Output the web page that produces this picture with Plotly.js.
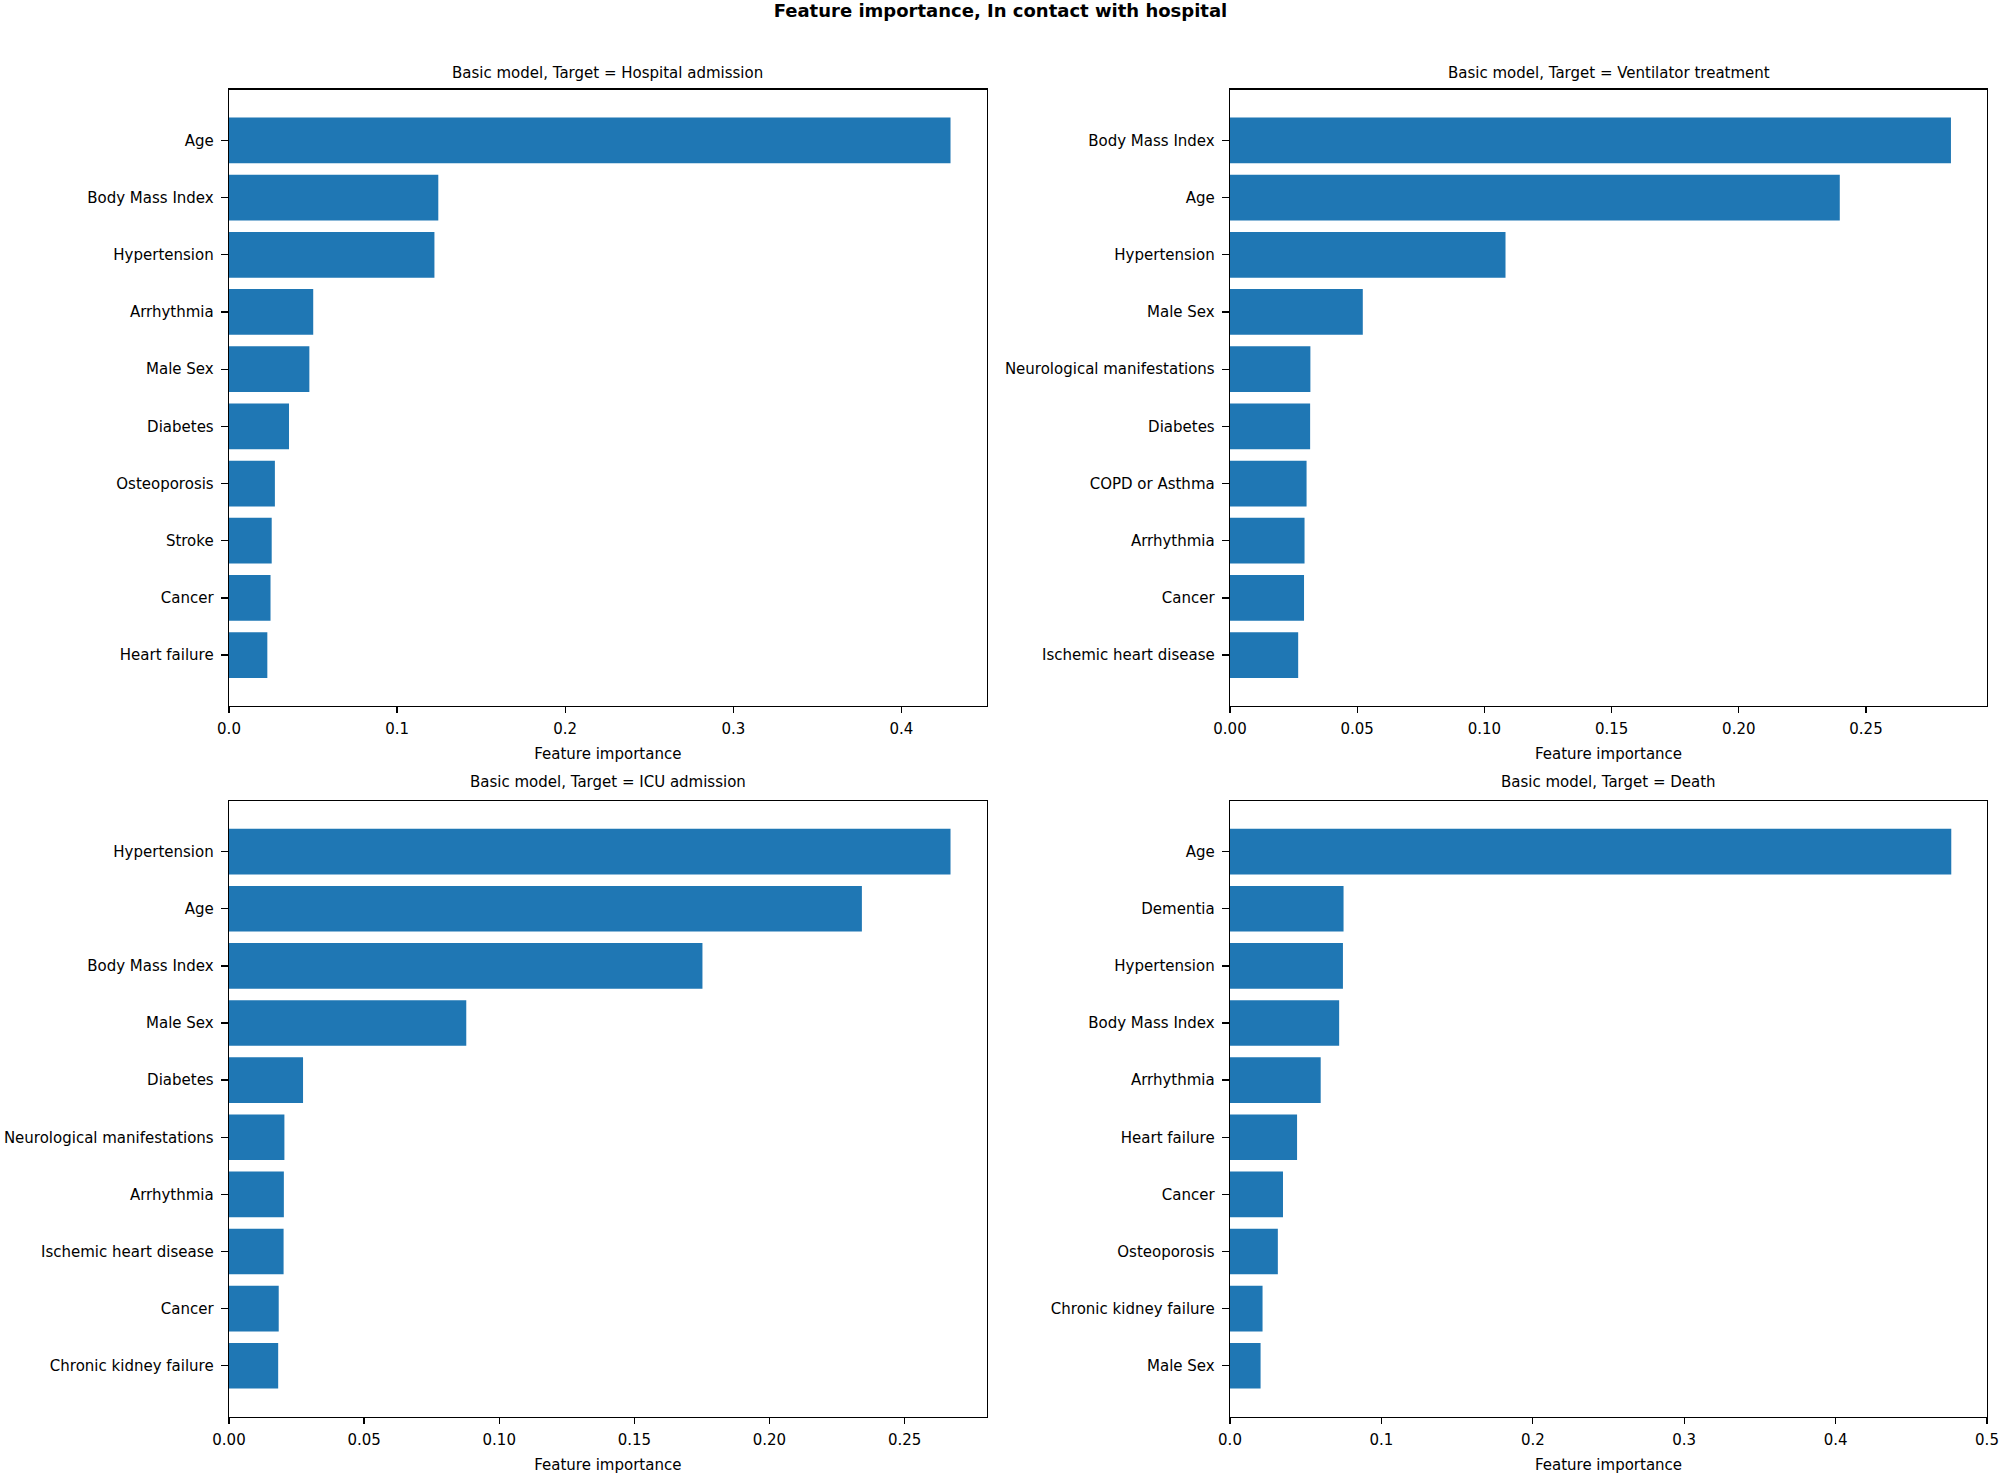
<!DOCTYPE html>
<html>
<head>
<meta charset="utf-8">
<script src="https://cdn.plot.ly/plotly-3.0.1.min.js"></script>
<style>html,body{margin:0;padding:0;background:#fff;}#chart{width:2001px;height:1474px;}</style>
</head>
<body>
<div id="chart"></div>
<script>
// ---- Data ----
const figTitle = "Feature importance, In contact with hospital";
const axisTitle = "Feature importance";

const hospTitle = "Basic model, Target = Hospital admission";
const hospFeatures = ["Age", "Body Mass Index", "Hypertension", "Arrhythmia", "Male Sex", "Diabetes", "Osteoporosis", "Stroke", "Cancer", "Heart failure"];
const hospValues = [0.4292, 0.1245, 0.1222, 0.0501, 0.0478, 0.0357, 0.0273, 0.0254, 0.0247, 0.0228];

const ventTitle = "Basic model, Target = Ventilator treatment";
const ventFeatures = ["Body Mass Index", "Age", "Hypertension", "Male Sex", "Neurological manifestations", "Diabetes", "COPD or Asthma", "Arrhythmia", "Cancer", "Ischemic heart disease"];
const ventValues = [0.2834, 0.2397, 0.1083, 0.0522, 0.0316, 0.0315, 0.0301, 0.0293, 0.0291, 0.0268];

const icuTitle = "Basic model, Target = ICU admission";
const icuFeatures = ["Hypertension", "Age", "Body Mass Index", "Male Sex", "Diabetes", "Neurological manifestations", "Arrhythmia", "Ischemic heart disease", "Cancer", "Chronic kidney failure"];
const icuValues = [0.2670, 0.2342, 0.1752, 0.0878, 0.0274, 0.0205, 0.0203, 0.0202, 0.0184, 0.0182];

const deathTitle = "Basic model, Target = Death";
const deathFeatures = ["Age", "Dementia", "Hypertension", "Body Mass Index", "Arrhythmia", "Heart failure", "Cancer", "Osteoporosis", "Chronic kidney failure", "Male Sex"];
const deathValues = [0.4764, 0.0750, 0.0746, 0.0721, 0.0599, 0.0443, 0.0350, 0.0316, 0.0215, 0.0202];

const xTickSteps = [0.1, 0.05, 0.05, 0.1];
const xTickFormats = [".1f", ".2f", ".2f", ".1f"];
const xMaxOverride = [null, null, null, 0.5];

// ---- Layout helpers ----
const W = 2001, H = 1474;
const FONT = "DejaVu Sans, Liberation Sans, sans-serif";
const BLUE = "#1f77b4";
const colDom = [[229 / W, 986.6 / W], [1230 / W, 1987 / W]];
const rowDom = [[1 - 706 / H, 1 - 89.5 / H], [1 - 1416.6 / H, 1 - 800.8 / H]];
const titleY = [1 - 72.7 / H, 1 - 782 / H];

const panels = [
  {title: hospTitle, feats: hospFeatures, vals: hospValues, col: 0, row: 0},
  {title: ventTitle, feats: ventFeatures, vals: ventValues, col: 1, row: 0},
  {title: icuTitle, feats: icuFeatures, vals: icuValues, col: 0, row: 1},
  {title: deathTitle, feats: deathFeatures, vals: deathValues, col: 1, row: 1}
];

const data = [];
const layout = {
  width: W, height: H,
  margin: {l: 0, r: 0, t: 0, b: 0},
  paper_bgcolor: "#fff", plot_bgcolor: "#fff",
  showlegend: false,
  bargap: 0.2,
  font: {family: FONT, size: 15, color: "#000"},
  title: {
    text: "<b>" + figTitle + "</b>",
    font: {family: FONT, size: 18, color: "#000"},
    x: 0.5, xanchor: "center", xref: "paper",
    y: 1 - 11 / H, yanchor: "middle", yref: "container"
  },
  annotations: []
};

panels.forEach((p, i) => {
  const n = i + 1;
  const xa = "x" + (n === 1 ? "" : n);
  const ya = "y" + (n === 1 ? "" : n);
  data.push({
    type: "bar", orientation: "h",
    x: p.vals, y: p.feats,
    xaxis: xa, yaxis: ya,
    marker: {color: BLUE, line: {width: 0}},
    hoverinfo: "x+y"
  });
  const maxV = Math.max(...p.vals);
  const xmax = xMaxOverride[i] !== null ? xMaxOverride[i] : maxV * 1.05;
  const nCat = p.feats.length;
  const common = {
    showline: true, mirror: true, linecolor: "#000", linewidth: 1.3,
    ticks: "outside", ticklen: 6, tickwidth: 1.3, tickcolor: "#000",
    showgrid: false, zeroline: false,
    tickfont: {family: FONT, size: 15, color: "#000"}
  };
  layout["xaxis" + (n === 1 ? "" : n)] = Object.assign({}, common, {
    domain: colDom[p.col], anchor: ya,
    range: [0, xmax], dtick: xTickSteps[i], tick0: 0, tickformat: xTickFormats[i],
    ticklabelstandoff: 3,
    title: {text: axisTitle, font: {family: FONT, size: 15, color: "#000"}, standoff: 11}
  });
  layout["yaxis" + (n === 1 ? "" : n)] = Object.assign({}, common, {
    domain: rowDom[p.row], anchor: xa,
    type: "category", categoryorder: "array", categoryarray: p.feats,
    range: [nCat - 1 + 0.89, -0.89], ticklen: 7,
    ticklabelstandoff: 4
  });
  layout.annotations.push({
    text: p.title, showarrow: false,
    xref: "paper", yref: "paper",
    x: (colDom[p.col][0] + colDom[p.col][1]) / 2, xanchor: "center",
    y: titleY[p.row], yanchor: "middle",
    font: {family: FONT, size: 15, color: "#000"}
  });
});

Plotly.newPlot("chart", data, layout, {displayModeBar: false, staticPlot: true});
</script>
</body>
</html>
